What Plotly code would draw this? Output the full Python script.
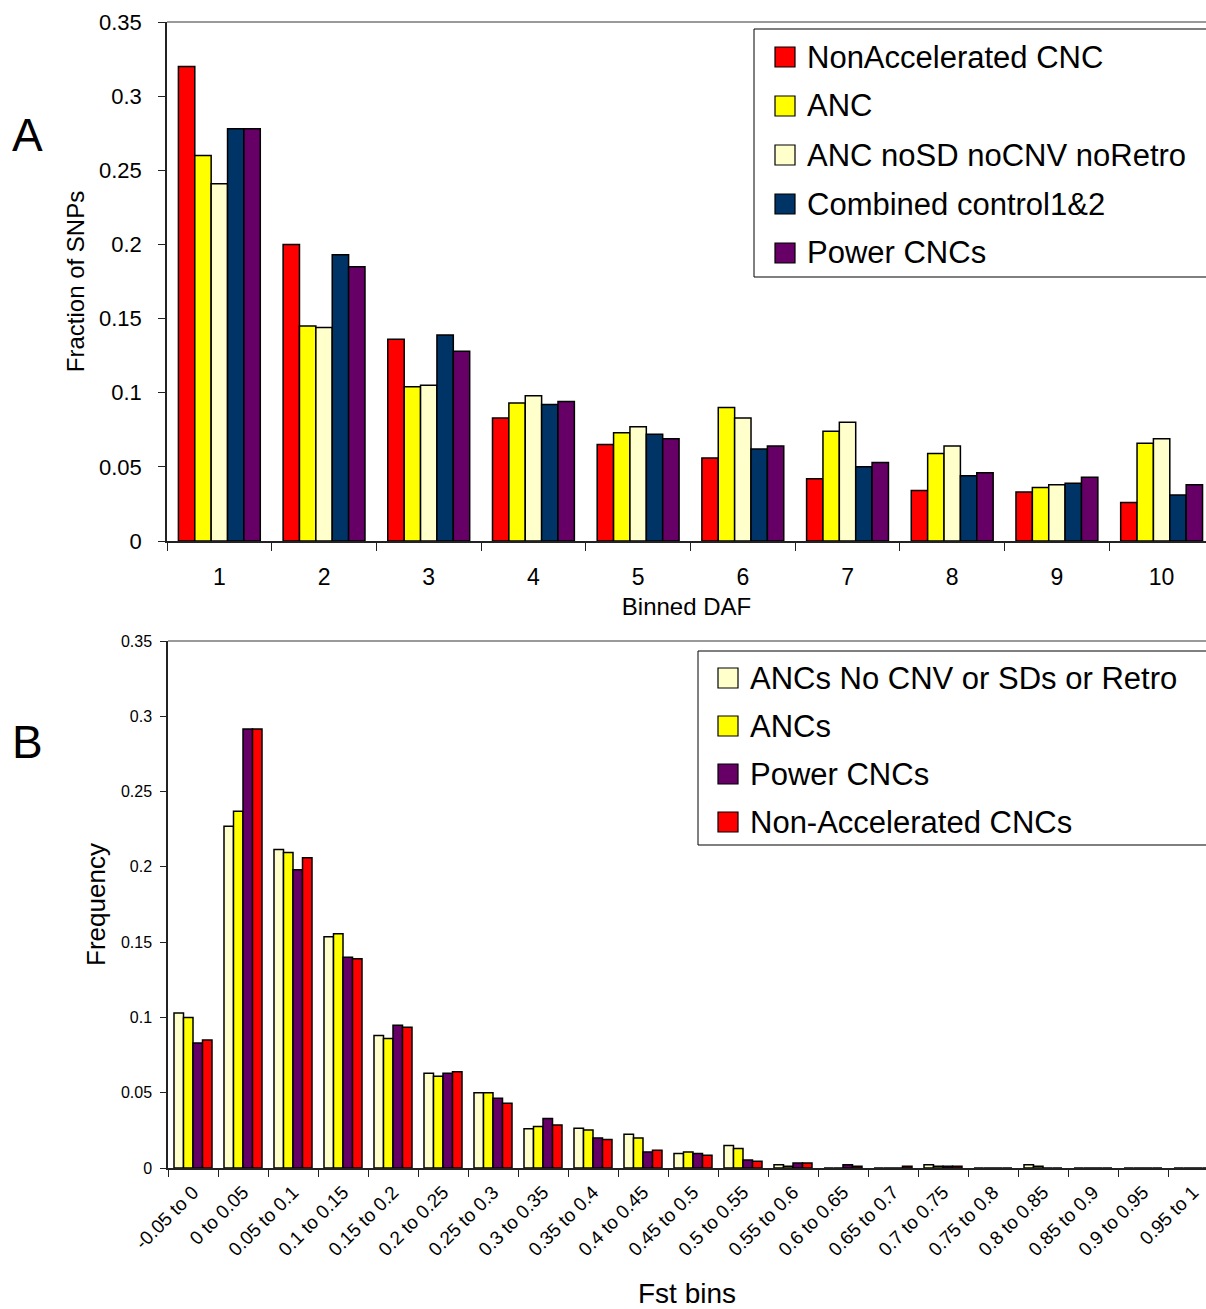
import plotly.graph_objects as go

W, H = 1206, 1309

# ---------------- Panel A data ----------------
daf_bins = ["1", "2", "3", "4", "5", "6", "7", "8", "9", "10"]
a_names = ["NonAccelerated CNC", "ANC", "ANC noSD noCNV noRetro",
           "Combined control1&2", "Power CNCs"]
a_nonacc = [0.320, 0.200, 0.136, 0.083, 0.065, 0.056, 0.042, 0.034, 0.033, 0.026]
a_anc = [0.260, 0.145, 0.104, 0.093, 0.073, 0.090, 0.074, 0.059, 0.036, 0.066]
a_anc_nosd = [0.241, 0.144, 0.105, 0.098, 0.077, 0.083, 0.080, 0.064, 0.038, 0.069]
a_combined = [0.278, 0.193, 0.139, 0.092, 0.072, 0.062, 0.050, 0.044, 0.039, 0.031]
a_power = [0.278, 0.185, 0.128, 0.094, 0.069, 0.064, 0.053, 0.046, 0.043, 0.038]
a_colors = ["#FF0000", "#FFFF00", "#FFFFCC", "#003366", "#660066"]

# ---------------- Panel B data ----------------
fst_bins = ["-0.05 to 0", "0 to 0.05", "0.05 to 0.1", "0.1 to 0.15", "0.15 to 0.2",
            "0.2 to 0.25", "0.25 to 0.3", "0.3 to 0.35", "0.35 to 0.4", "0.4 to 0.45",
            "0.45 to 0.5", "0.5 to 0.55", "0.55 to 0.6", "0.6 to 0.65", "0.65 to 0.7",
            "0.7 to 0.75", "0.75 to 0.8", "0.8 to 0.85", "0.85 to 0.9", "0.9 to 0.95",
            "0.95 to 1"]
b_names = ["ANCs No CNV or SDs or Retro", "ANCs", "Power CNCs", "Non-Accelerated CNCs"]
b_anc_nocnv = [0.103, 0.227, 0.2115, 0.1535, 0.088, 0.063, 0.050, 0.026, 0.0264, 0.0224,
               0.0096, 0.0149, 0.0022, 0.0, 0.0, 0.0022, 0.0, 0.0022, 0.0, 0.0, 0.0]
b_ancs = [0.100, 0.237, 0.2095, 0.1555, 0.086, 0.061, 0.050, 0.0275, 0.0253, 0.020,
          0.0107, 0.0129, 0.0011, 0.0, 0.0, 0.0011, 0.0, 0.0011, 0.0, 0.0, 0.0]
b_power = [0.083, 0.2915, 0.198, 0.140, 0.0948, 0.063, 0.0464, 0.0328, 0.020, 0.0107,
           0.0096, 0.0053, 0.0033, 0.0022, 0.0, 0.0011, 0.0, 0.0, 0.0, 0.0, 0.0]
b_nonacc = [0.085, 0.2915, 0.206, 0.139, 0.0934, 0.064, 0.043, 0.0286, 0.0189, 0.0118,
            0.0084, 0.0044, 0.0033, 0.0011, 0.0011, 0.0011, 0.0, 0.0, 0.0, 0.0, 0.0]
b_colors = ["#FFFFCC", "#FFFF00", "#660066", "#FF0000"]

FONT = "Liberation Sans, Arial, Helvetica, sans-serif"


def px(x):
    return x / W


def py(y):
    return 1 - y / H


fig = go.Figure()

a_width = (1 - 0.218) / 5
for i, (name, vals, col) in enumerate(zip(a_names, [a_nonacc, a_anc, a_anc_nosd, a_combined, a_power], a_colors)):
    fig.add_trace(go.Bar(x=daf_bins, y=vals, name=name, marker_color=col,
                         marker_line_color="#000000", marker_line_width=1.5,
                         width=a_width, offset=-0.391 + i * a_width,
                         xaxis="x", yaxis="y", showlegend=False))

b_width = (1 - 0.24) / 4
for i, (name, vals, col) in enumerate(zip(b_names, [b_anc_nocnv, b_ancs, b_power, b_nonacc], b_colors)):
    fig.add_trace(go.Bar(x=fst_bins, y=vals, name=name, marker_color=col,
                         marker_line_color="#000000", marker_line_width=1.5,
                         width=b_width, offset=-0.38 + i * b_width,
                         xaxis="x2", yaxis="y2", showlegend=False))

axis_common = dict(showgrid=False, zeroline=False, showline=True, linecolor="#222222",
                   linewidth=1.5, ticks="outside", tickcolor="#222222", tickwidth=1.2,
                   color="#000000", automargin=False)

fig.update_layout(
    template="none",
    width=W, height=H,
    margin=dict(l=0, r=0, t=0, b=0, autoexpand=False),
    paper_bgcolor="white", plot_bgcolor="white",
    barmode="group", bargap=0.218, bargroupgap=0.0,
    font=dict(family=FONT, color="#000000"),
    xaxis=dict(axis_common, domain=[px(167), 1.0], anchor="y", type="category",
               categoryorder="array", categoryarray=daf_bins,
               range=[-0.5, 9.424], tickson="boundaries", ticklen=8,
               tickfont=dict(size=23), ticklabelstandoff=15,
               title=dict(text="Binned DAF", font=dict(size=24), standoff=9)),
    yaxis=dict(axis_common, domain=[py(541), py(22)], anchor="x",
               range=[0, 0.35], dtick=0.05, ticklen=7, tickfont=dict(size=22),
               ticklabelstandoff=12,
               title=dict(text="Fraction of SNPs", font=dict(size=24), standoff=8)),
    xaxis2=dict(axis_common, domain=[px(168), 1.0], anchor="y2", type="category",
                categoryorder="array", categoryarray=fst_bins,
                range=[-0.5, 20.26], tickson="boundaries", ticklen=7,
                tickangle=-45, tickfont=dict(size=19), ticklabelstandoff=4,
                title=dict(text="Fst bins", font=dict(size=28), standoff=26)),
    yaxis2=dict(axis_common, domain=[py(1168), py(641)], anchor="x2",
                range=[0, 0.35], dtick=0.05, ticklen=6, tickfont=dict(size=16),
                ticklabelstandoff=5,
                title=dict(text="Frequency", font=dict(size=26), standoff=8)),
)

shapes = []
# top borders of plot areas
for xr, yr in (("x domain", "y domain"), ("x2 domain", "y2 domain")):
    shapes.append(dict(type="line", xref=xr, yref=yr, x0=0, x1=1, y0=1, y1=1,
                       line=dict(color="#9a9a9a", width=2)))

annotations = []
# Legend A
shapes.append(dict(type="rect", xref="paper", yref="paper", x0=px(754), x1=px(1212),
                   y0=py(277), y1=py(29), line=dict(color="#000000", width=1),
                   fillcolor="white", layer="above"))
for i, (name, col) in enumerate(zip(a_names, a_colors)):
    cy = 57 + i * 49
    shapes.append(dict(type="rect", xref="paper", yref="paper", x0=px(775), x1=px(795),
                       y0=py(cy + 10), y1=py(cy - 10), fillcolor=col,
                       line=dict(color="#000000", width=1.2), layer="above"))
    annotations.append(dict(text=name, xref="paper", yref="paper", x=px(805), y=py(cy),
                            xanchor="left", yanchor="middle", showarrow=False,
                            font=dict(size=31, family=FONT, color="#000000")))
# Legend B
shapes.append(dict(type="rect", xref="paper", yref="paper", x0=px(698), x1=px(1212),
                   y0=py(845), y1=py(651), line=dict(color="#000000", width=1),
                   fillcolor="white", layer="above"))
for i, (name, col) in enumerate(zip(b_names, b_colors)):
    cy = 678 + i * 48
    shapes.append(dict(type="rect", xref="paper", yref="paper", x0=px(718), x1=px(738),
                       y0=py(cy + 10), y1=py(cy - 10), fillcolor=col,
                       line=dict(color="#000000", width=1.2), layer="above"))
    annotations.append(dict(text=name, xref="paper", yref="paper", x=px(748), y=py(cy),
                            xanchor="left", yanchor="middle", showarrow=False,
                            font=dict(size=31, family=FONT, color="#000000")))

# Panel letters
for letter, cy in (("A", 135), ("B", 742)):
    annotations.append(dict(text=letter, xref="paper", yref="paper", x=px(28), y=py(cy),
                            xanchor="center", yanchor="middle", showarrow=False,
                            font=dict(size=46, family=FONT, color="#000000")))

fig.update_layout(shapes=shapes, annotations=annotations)
fig.write_html("out.html")
